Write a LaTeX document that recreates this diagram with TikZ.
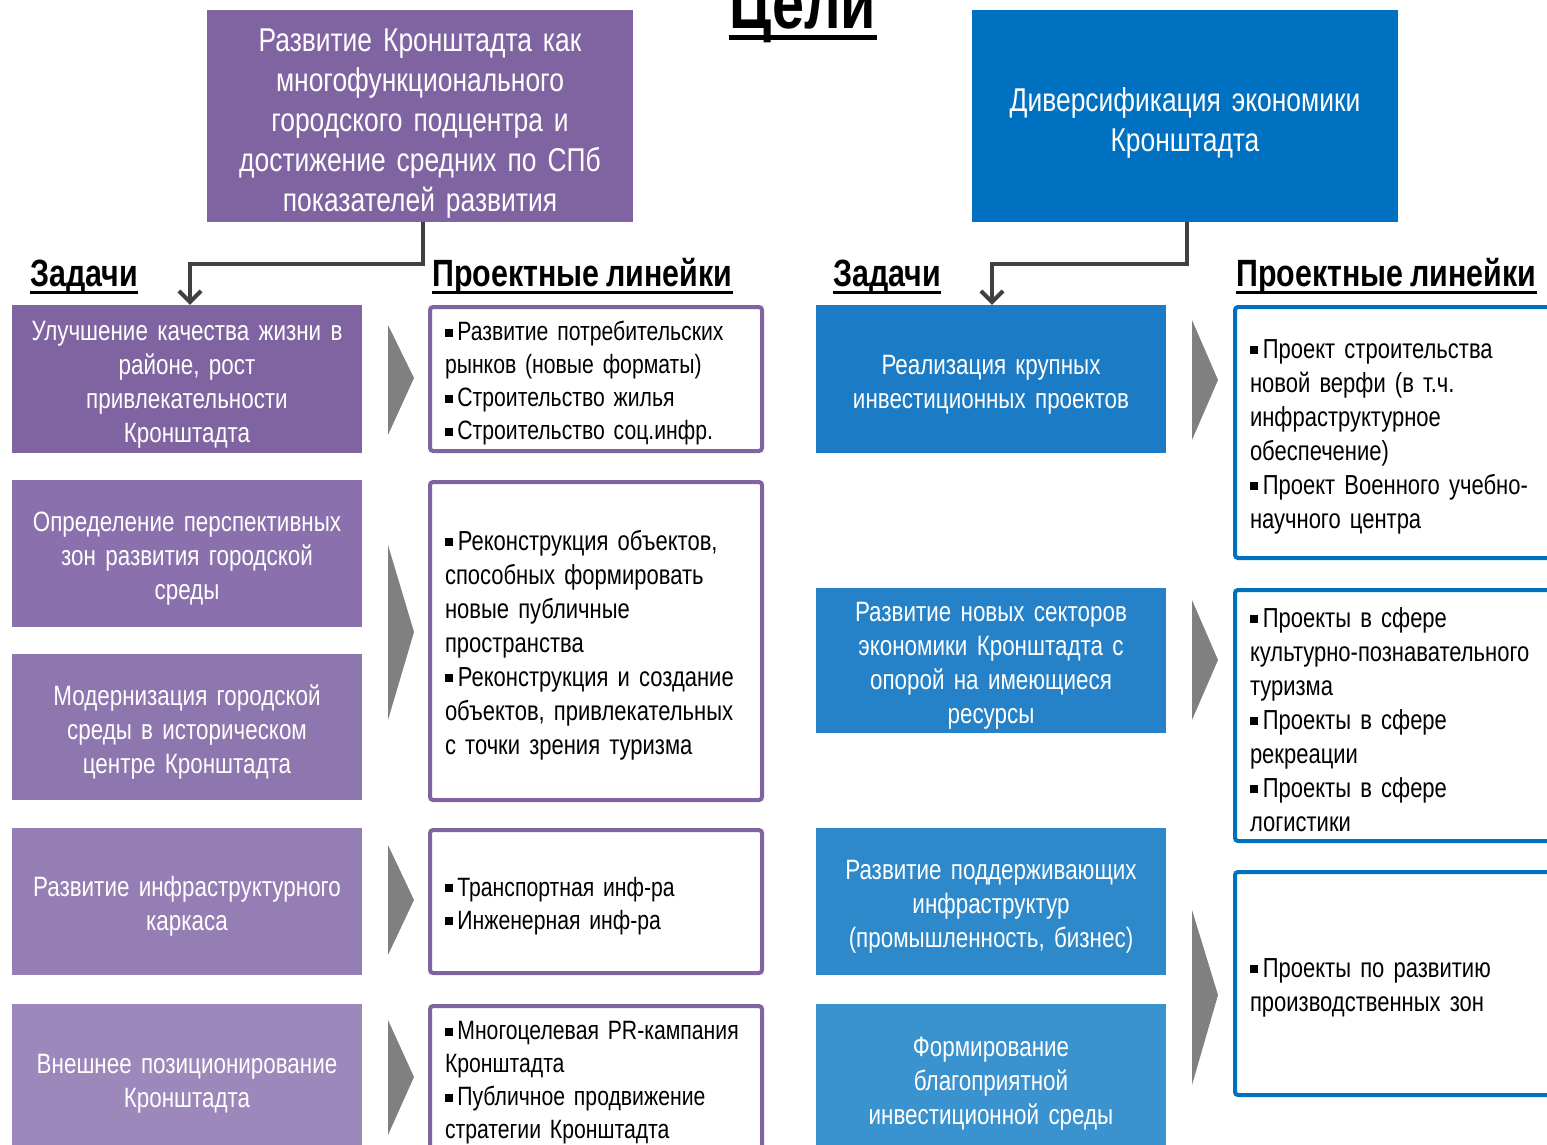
\documentclass[tikz,border=0pt]{standalone}
\usepackage{fontspec}
\setmainfont{Liberation Sans}[FakeStretch=0.8, WordSpace=0.85]
\usepackage{xcolor}
\usetikzlibrary{arrows.meta,positioning,calc}

\definecolor{violetA}{HTML}{8064A2}
\definecolor{violetB}{HTML}{8A70AC}
\definecolor{violetC}{HTML}{8E76AF}
\definecolor{violetD}{HTML}{957EB4}
\definecolor{violetE}{HTML}{9C88BA}
\definecolor{azureG}{HTML}{0070C0}
\definecolor{azureA}{HTML}{1B7BC4}
\definecolor{azureB}{HTML}{2582C8}
\definecolor{azureC}{HTML}{2E89CB}
\definecolor{azureD}{HTML}{3A92CF}
\definecolor{chevgray}{HTML}{808080}
\definecolor{linkgray}{HTML}{404040}

\newcommand{\bul}{\raisebox{0.3ex}{\rule{0.3em}{0.3em}}\,}

\begin{document}
\begin{tikzpicture}[
    x=1pt, y=-1pt,
    goal/.style={rectangle, fill=#1, text=white, minimum width=426pt, minimum height=212pt, text width=420pt, inner sep=0pt, align=center, text height=38pt, font=\fontsize{33}{40}\selectfont},
    task/.style={rectangle, fill=#1, text=white, minimum width=350pt, text width=340pt, inner sep=0pt, align=center, text height=30pt, font=\fontsize{28}{34}\selectfont},
    proj/.style={rectangle, draw=#1, line width=4pt, rounded corners=3pt, fill=white, text width=302pt, inner xsep=15pt, inner ysep=0pt, align=left, text height=28pt, font=\fontsize{26.5}{33}\selectfont},
    wide/.style={font=\fontsize{27.5}{34}\selectfont},
    head/.style={anchor=base west, inner sep=0pt, font=\bfseries\fontsize{38}{40}\selectfont},
    uline/.style={line width=3pt},
    chev/.style={fill=chevgray},
    link/.style={draw=linkgray, line width=4pt, -{Straight Barb[length=11pt,width=22pt,line width=4pt]}}
]
    \useasboundingbox (0,0) rectangle (1547,1145);
    \clip (0,0) rectangle (1547,1145);

    % title and goals
    \node[inner sep=0pt, anchor=base, font=\bfseries\fontsize{72}{74}\selectfont] (title) at (803,29) {Цели};
    \draw[line width=5pt] ([yshift=-9pt]title.base west) -- ([yshift=-9pt]title.base east);
    \node[goal=violetA] (g1) at (420,116) {Развитие Кронштадта как\\ многофункционального\\ городского подцентра и\\ достижение средних по СПб\\ показателей развития};
    \node[goal=azureG] (g2) at (1185,116) {Диверсификация экономики\\ Кронштадта};

    % headings
    \node[head] (h1) at (30,286) {Задачи};
    \node[head] (h2) at (432,286) {Проектные линейки};
    \node[head] (h3) at (833,286) {Задачи};
    \node[head] (h4) at (1236,286) {Проектные линейки};
    \foreach \h in {h1,h2,h3,h4}
        \draw[uline] ([yshift=-6pt]\h.base west) -- ([yshift=-6pt]\h.base east);

    % left tasks
    \node[task=violetA, minimum height=148pt] (t1) at (187,379) {Улучшение качества жизни в\\ районе, рост\\ привлекательности\\ Кронштадта};
    \node[task=violetB, minimum height=147pt] (t2) at (187,553.5) {Определение перспективных\\ зон развития городской\\ среды};
    \node[task=violetC, minimum height=146pt] (t3) at (187,727) {Модернизация городской\\ среды в историческом\\ центре Кронштадта};
    \node[task=violetD, minimum height=147pt] (t4) at (187,901.5) {Развитие инфраструктурного\\ каркаса};
    \node[task=violetE, minimum height=148pt] (t5) at (187,1078) {Внешнее позиционирование\\ Кронштадта};

    % left project lines
    \node[proj=violetA, minimum height=144pt] (p1) at (596,379) {\bul Развитие потребительских\\ рынков (новые форматы)\\ \bul Строительство жилья\\ \bul Строительство соц.инфр.};
    \node[proj=violetA, wide, minimum height=318pt] (p2) at (596,641) {\bul Реконструкция объектов,\\ способных формировать\\ новые публичные\\ пространства\\ \bul Реконструкция и создание\\ объектов, привлекательных\\ с точки зрения туризма};
    \node[proj=violetA, minimum height=143pt] (p3) at (596,901.5) {\bul Транспортная инф-ра\\ \bul Инженерная инф-ра};
    \node[proj=violetA, minimum height=144pt] (p4) at (596,1078) {\bul Многоцелевая PR-кампания\\ Кронштадта\\ \bul Публичное продвижение\\ стратегии Кронштадта};

    % right tasks
    \node[task=azureA, minimum height=148pt] (r1) at (991,379) {Реализация крупных\\ инвестиционных проектов};
    \node[task=azureB, minimum height=145pt] (r2) at (991,660.5) {Развитие новых секторов\\ экономики Кронштадта с\\ опорой на имеющиеся\\ ресурсы};
    \node[task=azureC, minimum height=147pt] (r3) at (991,901.5) {Развитие поддерживающих\\ инфраструктур\\ (промышленность, бизнес)};
    \node[task=azureD, minimum height=148pt] (r4) at (991,1078) {Формирование\\ благоприятной\\ инвестиционной среды};

    % right project lines
    \node[proj=azureG, wide, minimum height=251pt] (q1) at (1401,432.5) {\bul Проект строительства\\ новой верфи (в т.ч.\\ инфраструктурное\\ обеспечение)\\ \bul Проект Военного учебно-\\ научного центра};
    \node[proj=azureG, wide, minimum height=251pt] (q2) at (1401,715.5) {\bul Проекты в сфере\\ культурно-познавательного\\ туризма\\ \bul Проекты в сфере\\ рекреации\\ \bul Проекты в сфере\\ логистики};
    \node[proj=azureG, wide, minimum height=223pt] (q3) at (1401,983.5) {\bul Проекты по развитию\\ производственных зон};

    % chevrons
    \fill[chev] (388,325) -- (414,378) -- (388,435) -- cycle;
    \fill[chev] (388,545) -- (414,632) -- (388,720) -- cycle;
    \fill[chev] (388,845) -- (414,900) -- (388,955) -- cycle;
    \fill[chev] (388,1020) -- (414,1077) -- (388,1135) -- cycle;
    \fill[chev] (1192,320) -- (1218,380) -- (1192,440) -- cycle;
    \fill[chev] (1192,600) -- (1218,660) -- (1192,720) -- cycle;
    \fill[chev] (1192,910) -- (1218,995) -- (1192,1085) -- cycle;

    % connectors
    \draw[link] ([xshift=3pt]g1.south) -- ++(0,42) -| ([xshift=3pt]t1.north);
    \draw[link] ([xshift=2pt]g2.south) -- ++(0,42) -| ([xshift=1pt]r1.north);
\end{tikzpicture}
\end{document}
